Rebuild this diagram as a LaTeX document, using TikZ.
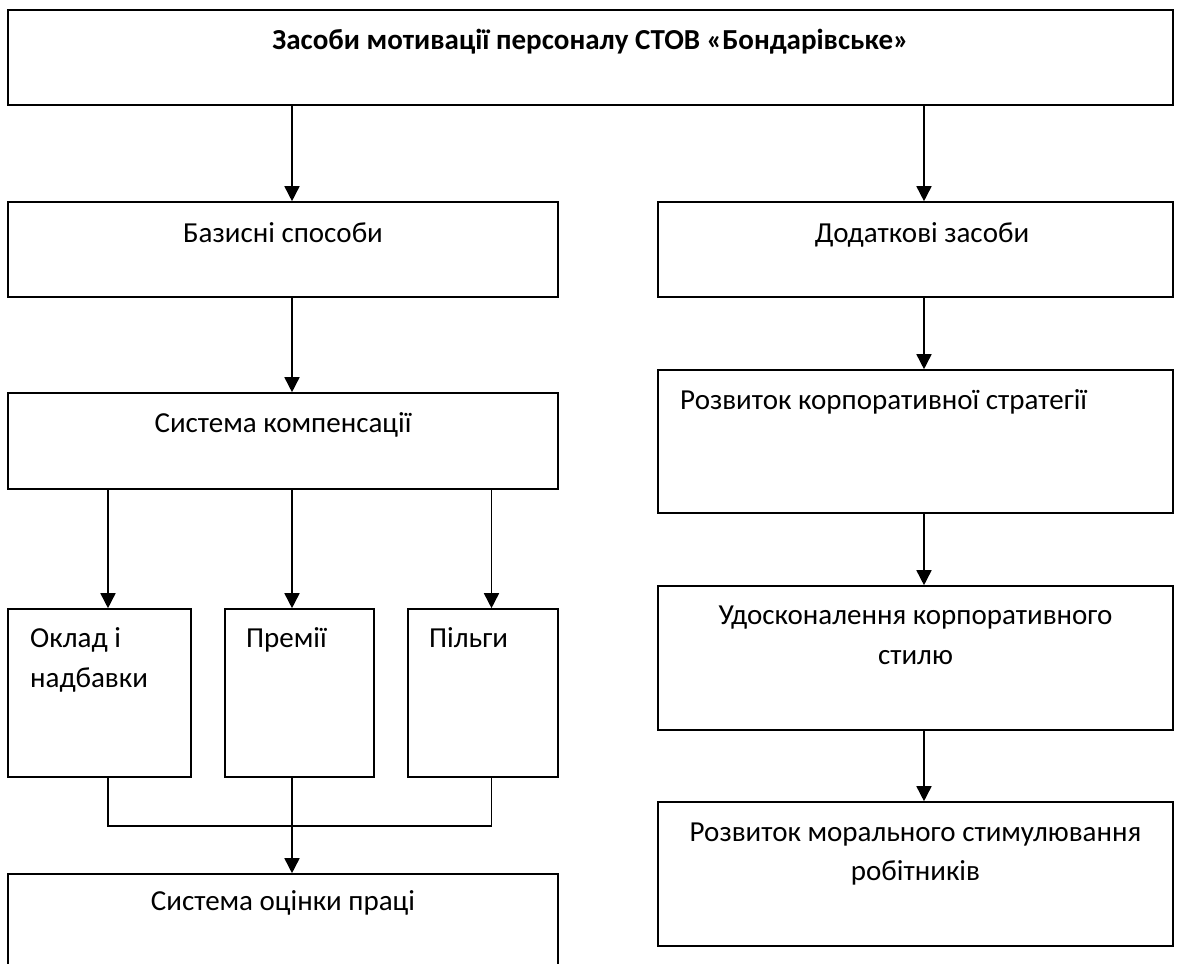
\documentclass[tikz,border=0pt]{standalone}
\usepackage{fontspec}
\setmainfont{Carlito}
\usetikzlibrary{arrows.meta}
\begin{document}
\begin{tikzpicture}[x=1pt,y=-1pt,
  box/.style={draw=black, line width=1.6pt, rectangle, inner sep=0pt},
  txt/.style={inner sep=0pt, font=\fontsize{29}{40}\selectfont},
  arr/.style={line width=1.6pt, -{Triangle[width=15pt,length=15pt]}},
  ln/.style={line width=1.1pt}]
\useasboundingbox (0,0) rectangle (1179,964);
\clip (0,0) rectangle (1179,964);
\fill[white] (0,0) rectangle (1179,964);
% columns
\coordinate (cL) at (292,0);
\coordinate (cR) at (924,0);
\coordinate (c1) at (108,0);
\coordinate (c3) at (491.5,0);
% boxes
\node[box, minimum width=1165pt, minimum height=95pt] (top) at (590.5,57.5) {};
\node[box, minimum width=550pt, minimum height=95pt] (bas) at (283,249.5) {};
\node[box, minimum width=515pt, minimum height=95pt] (dod) at (915.5,249.5) {};
\node[box, minimum width=550pt, minimum height=96pt] (comp) at (283,441) {};
\node[box, minimum width=183pt, minimum height=168pt] (okl) at (99.5,693) {};
\node[box, minimum width=149pt, minimum height=168pt] (prem) at (299.5,693) {};
\node[box, minimum width=150pt, minimum height=168pt] (pilg) at (483,693) {};
\node[box, minimum width=550pt, minimum height=160pt] (ocin) at (283,954) {};
\node[box, minimum width=515pt, minimum height=143pt] (rozv) at (915.5,441.5) {};
\node[box, minimum width=515pt, minimum height=144pt] (udos) at (915.5,658) {};
\node[box, minimum width=515pt, minimum height=144pt] (moral) at (915.5,874) {};
% texts
\node[txt, anchor=base, font=\fontsize{29}{40}\selectfont\bfseries] (tTop) at (590.5,49) {Засоби мотивації персоналу СТОВ «Бондарівське»};
\node[txt, anchor=base] (tBas) at (283,242) {Базисні способи};
\node[txt, anchor=base] (tDod) at (922,242) {Додаткові засоби};
\node[txt, anchor=base] (tComp) at (283,432) {Система компенсації};
\node[txt, anchor=base west] (tOkl1) at (30,647) {Оклад і};
\node[txt, anchor=base west] (tOkl2) at (30,687) {надбавки};
\node[txt, anchor=base west] (tPrem) at (246,647) {Премії};
\node[txt, anchor=base west] (tPilg) at (429,647) {Пільги};
\node[txt, anchor=base] (tOcin) at (283,910) {Система оцінки праці};
\node[txt, anchor=base west] (tRozv) at (680,409) {Розвиток корпоративної стратегії};
\node[txt, anchor=base] (tUdos1) at (915.5,624) {Удосконалення корпоративного};
\node[txt, anchor=base] (tUdos2) at (915.5,664) {стилю};
\node[txt, anchor=base] (tMor1) at (915.5,841) {Розвиток морального стимулювання};
\node[txt, anchor=base] (tMor2) at (915.5,880) {робітників};
% connectors
\coordinate (j1) at (108,826);
\coordinate (j3) at (491.5,826);
\draw[arr] (top.south -| cL) -- (bas.north -| cL);
\draw[arr] (top.south -| cR) -- (dod.north -| cR);
\draw[arr] (bas.south -| cL) -- (comp.north -| cL);
\draw[arr] (comp.south -| c1) -- (okl.north -| c1);
\draw[arr] (comp.south -| cL) -- (prem.north -| cL);
\draw[arr] (comp.south -| c3) -- (pilg.north -| c3);
\draw[ln] (okl.south -| c1) -- (j1) -- (j3) -- (pilg.south -| c3);
\draw[arr] (prem.south -| cL) -- (ocin.north -| cL);
\draw[arr] (dod.south -| cR) -- (rozv.north -| cR);
\draw[arr] (rozv.south -| cR) -- (udos.north -| cR);
\draw[arr] (udos.south -| cR) -- (moral.north -| cR);
\end{tikzpicture}
\end{document}
